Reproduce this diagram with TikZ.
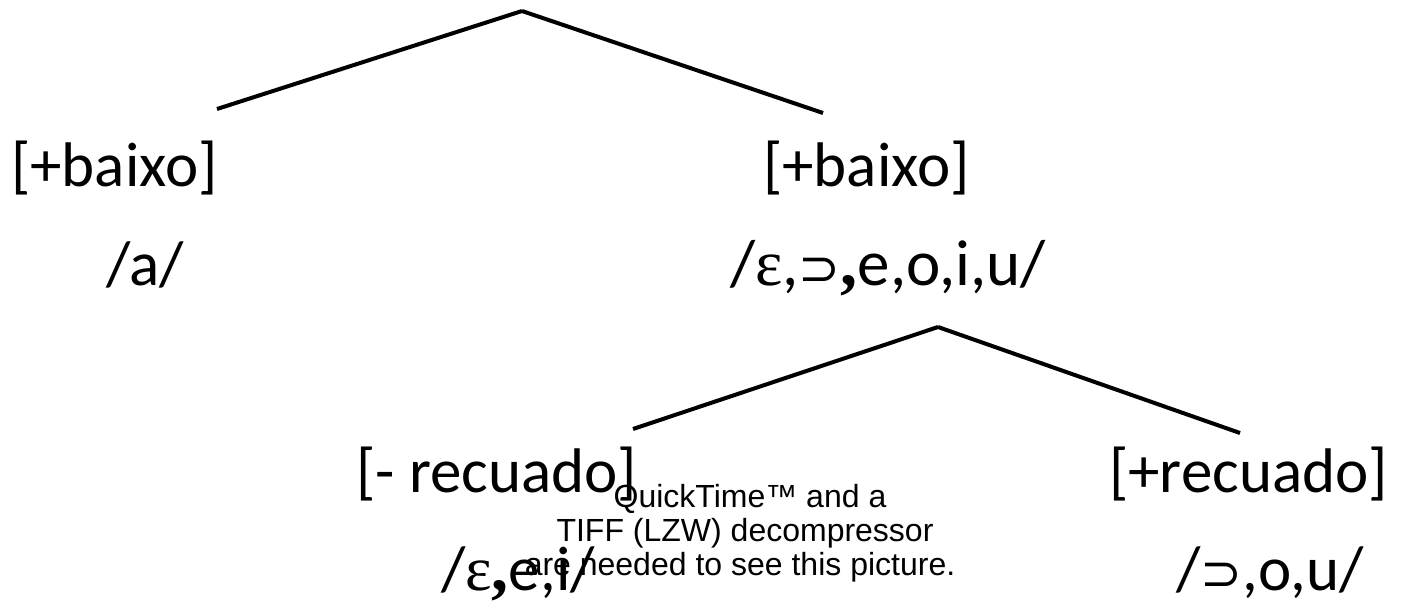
\documentclass[tikz,border=0pt]{standalone}
\usepackage{fontspec}
\setmainfont{Carlito}
\newfontfamily\qtfont{Liberation Sans}
\newfontfamily\grfont{Liberation Serif}
\newfontfamily\supfont{DejaVu Sans}
\newcommand{\eps}{{\grfont ε}}
\newcommand{\sups}{{\supfont\fontsize{50}{60}\selectfont ⊃}}
\newcommand{\bcomma}{{\grfont\bfseries\fontsize{68}{70}\selectfont ,}}
\begin{document}
\begin{tikzpicture}[x=1pt,y=-1pt,
  lbl/.style={inner sep=0pt, anchor=base west, font=\fontsize{63}{70}\selectfont},
  qt/.style={inner sep=0pt, anchor=base, font=\qtfont\fontsize{32}{34}\selectfont},
  branch/.style={line width=4pt}]
\useasboundingbox (0,0) rectangle (1405,603);
% labels
\node[lbl] (lb)  at (11,186)   {[+baixo]};
\node[lbl] (la)  at (106,285)  {/a/};
\node[lbl] (rb)  at (763,186)  {[+baixo]};
\node[lbl, font=\fontsize{65}{70}\selectfont] (rv) at (730,285) {/\eps,\sups\bcomma e,o,i,u/};
\node[lbl] (lr)  at (356,492)  {[- recuado]};
\node[lbl] (rr)  at (1109,492) {[+recuado]};
\node[lbl] (lv)  at (441,590)  {/\eps\bcomma e,i/};
\node[lbl] (rv2) at (1176,590) {/\sups,o,u/};
% placeholder text
\node[qt] (q1) at (750,507) {QuickTime™ and a};
\node[qt] (q2) at (745,541) {TIFF (LZW) decompressor};
\node[qt] (q3) at (740,575) {are needed to see this picture.};
% branch points
\coordinate (top) at (522,11);
\coordinate (tl)  at (217,109);
\coordinate (tr)  at (823,113);
\coordinate (mid) at (938,327);
\coordinate (ml)  at (633,429);
\coordinate (mr)  at (1240,433);
\draw[branch] (top) -- (tl);
\draw[branch] (top) -- (tr);
\draw[branch] (mid) -- (ml);
\draw[branch] (mid) -- (mr);
\end{tikzpicture}
\end{document}
